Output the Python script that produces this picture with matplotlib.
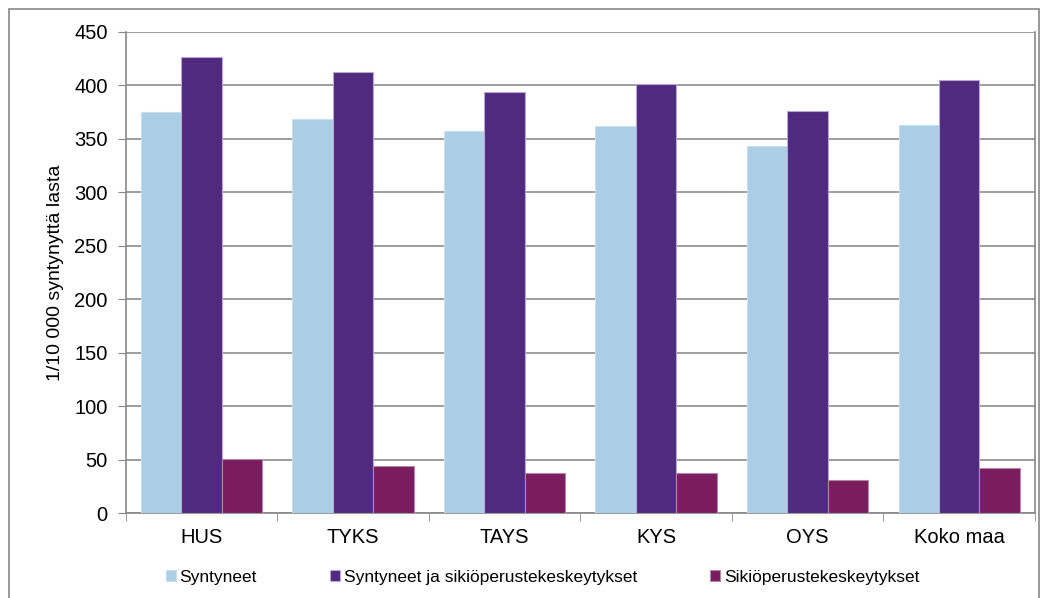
import numpy as np
import matplotlib.pyplot as plt
from matplotlib.patches import Rectangle

plt.rcParams['font.family'] = ['Liberation Sans', 'DejaVu Sans']

categories = ['HUS', 'TYKS', 'TAYS', 'KYS', 'OYS', 'Koko maa']
syntyneet = [375, 369, 357, 362, 343, 363]
synt_ja_sikio = [427, 413, 394, 401, 376, 405]
sikio = [51, 44, 37.5, 37.5, 31, 42]
series_names = ['Syntyneet', 'Syntyneet ja sikiöperustekeskeytykset',
                'Sikiöperustekeskeytykset']
yticks = [0, 50, 100, 150, 200, 250, 300, 350, 400, 450]

fig = plt.figure(figsize=(10.47, 5.98), dpi=100)
ax = fig.add_axes([0.120, 0.142, 0.8685, 0.8045])

x = np.arange(len(categories))
w = 0.8 / 3
colors = ['#abcde5', '#4f2a7f', '#7a1c5e']
edges = ['#c9e0f0', '#b9a6d6', '#b486a8']
for i, (vals, c, e, name) in enumerate(zip([syntyneet, synt_ja_sikio, sikio],
                                           colors, edges, series_names)):
    ax.bar(x + (i - 1) * w, vals, w, color=c, edgecolor=e, linewidth=0.8,
           label=name, zorder=3)

ax.set_xlim(-0.5, len(categories) - 0.5)
ax.set_ylim(0, 450)
ax.set_yticks(yticks)
ax.tick_params(axis='y', labelsize=14.5, length=6, color='#888888', pad=7)
ax.set_xticks(x)
ax.set_xticklabels(categories, fontsize=14.5)
ax.tick_params(axis='x', length=0, pad=11)
ax.set_xticks(np.arange(len(categories) + 1) - 0.5, minor=True)
ax.tick_params(axis='x', which='minor', length=6, color='#888888')
ax.yaxis.grid(True, color='#8c8c8c', linewidth=1.2, zorder=0)
ax.set_axisbelow(True)
for s in ['left', 'bottom', 'right']:
    ax.spines[s].set_color('#888888')
    ax.spines[s].set_linewidth(1.2)
ax.spines['top'].set_visible(False)
ax.set_ylabel('1/10 000 syntynyttä lasta', fontsize=14, labelpad=7)

fig.legend(loc='center', bbox_to_anchor=(0.518, 0.035), ncol=3, frameon=False,
           fontsize=12.5, handlelength=0.6, handleheight=0.6, handletextpad=0.2,
           columnspacing=4.2)

fig.patches.append(Rectangle((9 / 1047, -0.01), 1030 / 1047, 1.0 - 9 / 598 + 0.01,
                             transform=fig.transFigure, fill=False,
                             edgecolor='#888888', linewidth=1.2))

fig.savefig('out.png', dpi=100)
